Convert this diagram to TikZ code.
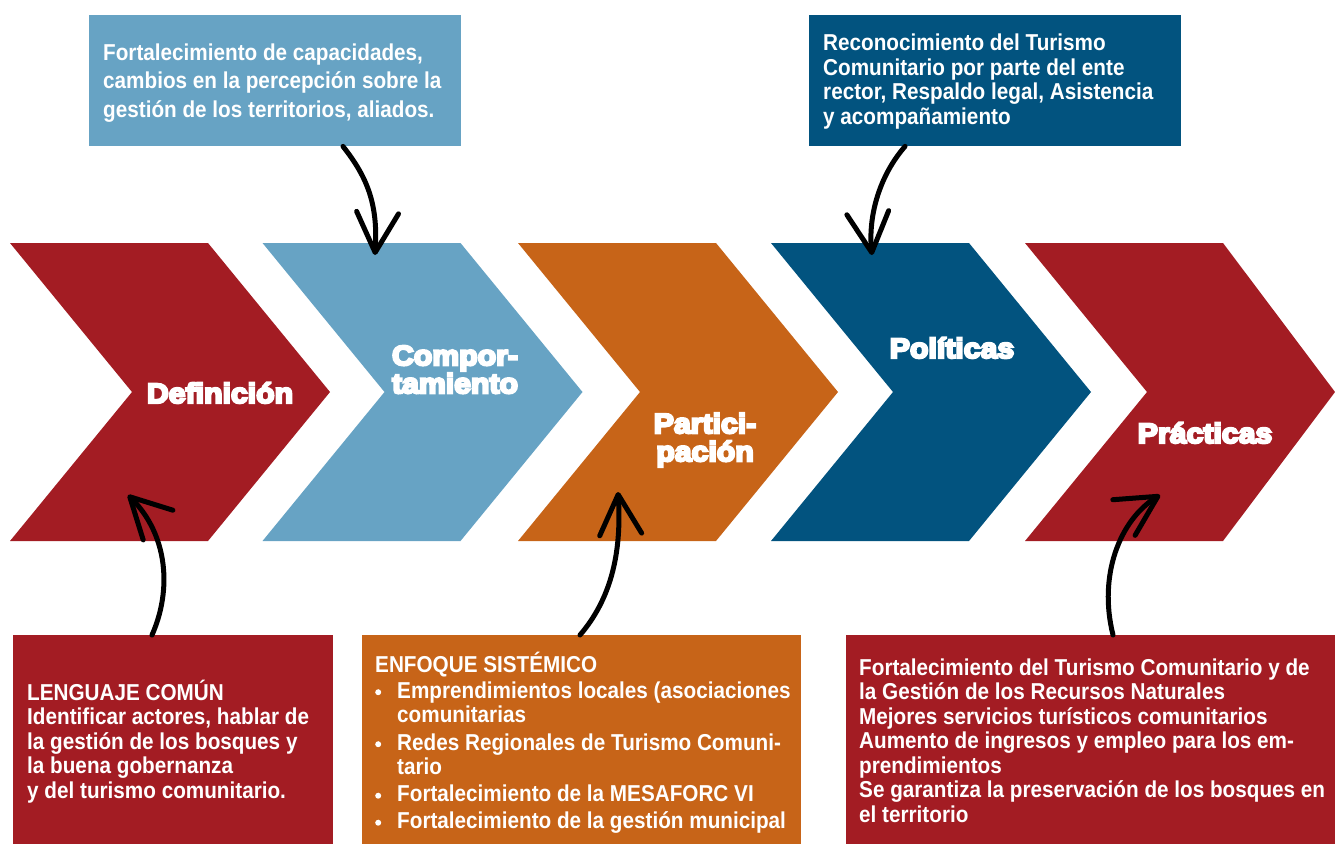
\documentclass[tikz,border=0pt]{standalone}
\usepackage{fontspec}
\setmainfont{Liberation Sans}
\newfontfamily\boxfont{Liberation Sans}[FakeStretch=0.9]
\newfontfamily\heavyfont{Liberation Sans}[FakeBold=8,FakeStretch=1.08]
\usetikzlibrary{arrows.meta}
\definecolor{cred}{RGB}{163,28,35}
\definecolor{clblue}{RGB}{103,163,196}
\definecolor{corange}{RGB}{199,100,24}
\definecolor{cdblue}{RGB}{2,83,127}
\setlength{\lineskiplimit}{-50pt}
\setlength{\normallineskiplimit}{-50pt}
\newcommand{\bigbul}{\makebox[22pt][l]{\tikz[baseline=0pt]\fill[white] (3.5pt,6pt) circle[radius=3pt];}}
\tikzset{
  box/.style={draw=none, inner sep=0pt, anchor=north west},
  boxtext/.style={text=white, inner sep=0pt, anchor=north west, align=left,
    font=\boxfont\bfseries\fontsize{23}{24.5}\selectfont},
  chevtext/.style={text=white, inner sep=0pt, align=center,
    font=\heavyfont\bfseries\fontsize{28}{28}\selectfont},
  hand/.style={draw=black, line width=5pt, line cap=round,
    -{Straight Barb[length=40pt,width=42pt,round]}},
}
\begin{document}
\begin{tikzpicture}[x=1pt,y=-1pt]
\useasboundingbox (0,0) rectangle (1335,844);
% chevrons
\fill[cred]    (10,243) -- ++(198,0) -- ++(122,149) -- ++(-122,149) -- ++(-198,0) -- ++(122,-149) -- cycle;
\fill[clblue]  (262.5,243) -- ++(198,0) -- ++(122,149) -- ++(-122,149) -- ++(-198,0) -- ++(122,-149) -- cycle;
\fill[corange] (518,243) -- ++(198,0) -- ++(122,149) -- ++(-122,149) -- ++(-198,0) -- ++(122,-149) -- cycle;
\fill[cdblue]  (771,243) -- ++(198,0) -- ++(122,149) -- ++(-122,149) -- ++(-198,0) -- ++(122,-149) -- cycle;
\fill[cred]    (1025,243) -- ++(198,0) -- ++(112,149) -- ++(-112,149) -- ++(-198,0) -- ++(122,-149) -- cycle;
% chevron labels
\node[chevtext, anchor=base] (def) at (220,403) {Definición};
\node[chevtext, anchor=north] (com) at (455,344) {\rule{0pt}{21pt}Compor-\\tamiento};
\node[chevtext, anchor=north] (par) at (705,412) {\rule{0pt}{21pt}Partici-\\pación};
\node[chevtext, anchor=base] (pol) at (952,358) {Políticas};
\node[chevtext, anchor=base] (pra) at (1205,443) {Prácticas};
% boxes
\node[box, fill=clblue, minimum width=372pt, minimum height=131pt] (tl) at (89,15) {};
\node[box, fill=cdblue, minimum width=372pt, minimum height=131pt] (tr) at (809,15) {};
\node[box, fill=cred, minimum width=320pt, minimum height=209pt] (bl) at (13,635) {};
\node[box, fill=corange, minimum width=439pt, minimum height=209pt] (bm) at (362,635) {};
\node[box, fill=cred, minimum width=489pt, minimum height=209pt] (br) at (846,635) {};
% box texts
\node[boxtext, font=\boxfont\bfseries\fontsize{23}{28.5}\selectfont] (tlt) at (103,38)
  {\rule{0pt}{22pt}Fortalecimiento de capacidades,\\cambios en la percepción sobre la\\gestión de los territorios, aliados.};
\node[boxtext] (trt) at (823,28.5)
  {\rule{0pt}{22pt}Reconocimiento del Turismo\\Comunitario por parte del ente\\rector, Respaldo legal, Asistencia\\y acompañamiento};
\node[boxtext] (blt) at (27,678)
  {\rule{0pt}{22pt}LENGUAJE COMÚN\\Identificar actores, hablar de\\la gestión de los bosques y\\la buena gobernanza\\y del turismo comunitario.};
\node[boxtext] (bmt) at (375,650)
  {\rule{0pt}{22pt}ENFOQUE SISTÉMICO\\[1.5pt]
   \bigbul Emprendimientos locales (asociaciones\\
   \hspace*{22pt}comunitarias\\[3pt]
   \bigbul Redes Regionales de Turismo Comuni-\\
   \hspace*{22pt}tario\\[2.5pt]
   \bigbul Fortalecimiento de la MESAFORC VI\\[2.5pt]
   \bigbul Fortalecimiento de la gestión municipal};
\node[boxtext] (brt) at (859,653)
  {\rule{0pt}{22pt}Fortalecimiento del Turismo Comunitario y de\\la Gestión de los Recursos Naturales\\Mejores servicios turísticos comunitarios\\Aumento de ingresos y empleo para los em-\\prendimientos\\Se garantiza la preservación de los bosques en\\el territorio};
% hand-drawn arrows
\coordinate (ta) at (375,255);
\coordinate (tb) at (872,255);
\coordinate (tc) at (128,495);
\coordinate (td) at (618,492);
\coordinate (te) at (1160,495);
\draw[hand] ([xshift=254pt]tl.south west) .. controls (368,178) and (378,205) .. (ta);
\draw[hand] ([xshift=96pt]tr.south west) .. controls (880,175) and (868,215) .. (tb);
\draw[hand] ([xshift=139pt]bl.north west) .. controls (172,590) and (168,535) .. (tc);
\draw[hand] ([xshift=218pt]bm.north west) .. controls (610,600) and (622,555) .. (td);
\draw[hand] ([xshift=267pt]br.north west) .. controls (1098,575) and (1120,520) .. (te);
\end{tikzpicture}
\end{document}
